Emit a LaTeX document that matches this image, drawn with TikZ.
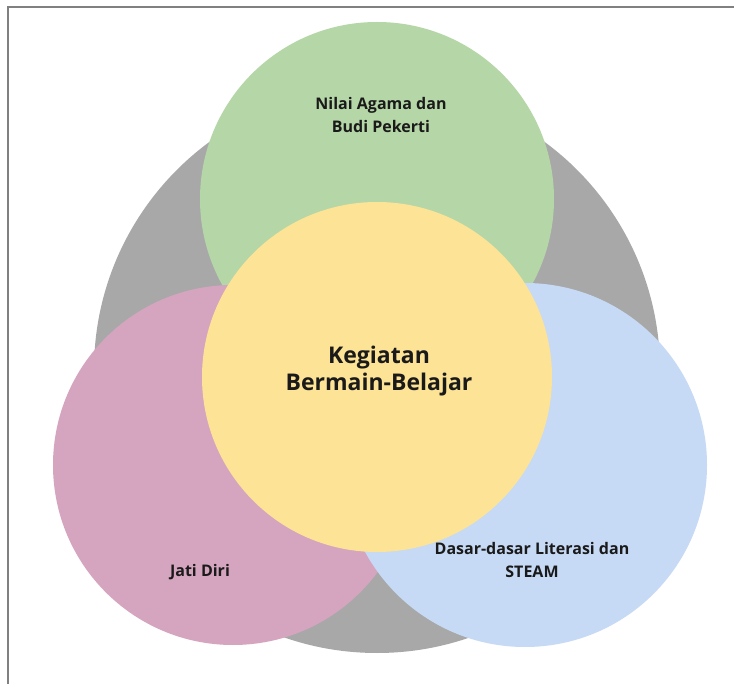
\documentclass[tikz,border=0pt]{standalone}
\usepackage{fontspec}
\setmainfont{Open Sans}
\definecolor{cgray}{HTML}{A8A8A8}
\definecolor{cgreen}{HTML}{B5D6A7}
\definecolor{cpink}{HTML}{D5A5BF}
\definecolor{cblue}{HTML}{C6D9F5}
\definecolor{cyellow}{HTML}{FDE396}
\definecolor{ctext}{HTML}{1A1A1A}
\definecolor{cframe}{HTML}{808080}
\tikzset{
  disc/.style={circle, draw=none, inner sep=0pt, minimum size=#1},
  lbl/.style={align=center, text=ctext, font=\bfseries\fontsize{16}{23}\selectfont, inner sep=0pt},
  biglbl/.style={align=center, text=ctext, font=\bfseries\fontsize{23}{27}\selectfont, inner sep=0pt},
}
\begin{document}
\begin{tikzpicture}[x=1pt,y=-1pt]
\useasboundingbox (0,0) rectangle (734,684);
\fill[white] (0,0) rectangle (734,684);
\coordinate (fa) at (7.5,684);
\coordinate (fb) at (7.5,7.5);
\coordinate (fc) at (734,7.5);
\draw[cframe, line width=2pt] (fa) -- (fb) -- (fc);
\node[disc=566pt, fill=cgray] (gray) at (377,370) {};
\node[disc=354pt, fill=cgreen] (green) at (377,199) {};
\node[disc=360pt, fill=cpink] (pink) at (233,465) {};
\node[disc=364pt, fill=cblue] (blue) at (525,465) {};
\node[disc=350pt, fill=cyellow] (yellow) at (377,377) {};
\node[lbl] (tgreen) at (381,115.5) {Nilai Agama dan\\Budi Pekerti};
\node[biglbl] (tyellow) at (379,371.5) {Kegiatan\\Bermain-Belajar};
\node[lbl] (tblue) at (532,560) {Dasar-dasar Literasi dan\\STEAM};
\node[lbl] (tpink) at (200,572) {Jati Diri};
\end{tikzpicture}
\end{document}
